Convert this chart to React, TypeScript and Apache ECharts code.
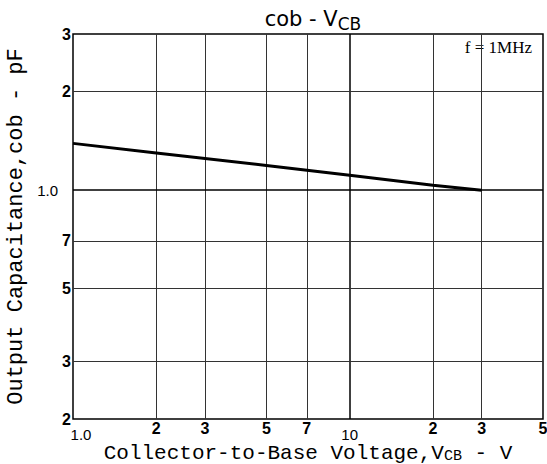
import React, { useEffect, useRef } from "react";
import * as echarts from "echarts";

const voltage = [1, 2, 5, 10, 20, 30];
const capacitance = [1.39, 1.3, 1.19, 1.11, 1.035, 1.0];

const xGrid = [2, 3, 5, 7, 10, 20, 30];
const yGrid = [0.3, 0.5, 0.7, 1, 2];

const xTickValues = [1, 2, 3, 5, 7, 10, 20, 30, 50];
const xTickLabels = ["1.0", "2", "3", "5", "7", "10", "2", "3", "5"];
const yTickValues = [0.2, 0.3, 0.5, 0.7, 1, 2, 3];
const yTickLabels = ["2", "3", "5", "7", "1.0", "2", "3"];

const App: React.FC = () => {
  const ref = useRef<HTMLDivElement>(null);

  useEffect(() => {
    if (!ref.current) return;
    const chart = echarts.init(ref.current, undefined, { renderer: "svg" });

    const boldFont = {
      fontFamily: "Liberation Sans",
      fontWeight: "bold" as const,
      fontSize: 16,
      color: "#000",
    };
    const normalFont = {
      fontFamily: "Liberation Sans",
      fontWeight: "normal" as const,
      fontSize: 15,
      color: "#000",
    };

    const markData: any[] = [];
    xGrid.forEach((v) => {
      markData.push({
        xAxis: v,
        lineStyle: { color: v === 10 ? "#000" : "#333", width: v === 10 ? 1.5 : 1, type: "solid" },
        label: { show: false },
      });
    });
    yGrid.forEach((v) => {
      markData.push({
        yAxis: v,
        lineStyle: { color: v === 1 ? "#000" : "#333", width: v === 1 ? 1.5 : 1, type: "solid" },
        label: { show: false },
      });
    });
    xTickValues.forEach((v, i) => {
      const lbl = xTickLabels[i];
      const major = lbl === "1.0" || lbl === "10";
      markData.push({
        xAxis: v,
        lineStyle: { color: "rgba(0,0,0,0)", width: 1, type: "solid" },
        label: {
          show: true,
          position: "start",
          formatter: lbl,
          distance: major ? 8 : 1,
          padding: lbl === "1.0" ? [0, 0, 0, 16] : 0,
          ...(major ? normalFont : boldFont),
        },
      });
    });
    yTickValues.forEach((v, i) => {
      const major = yTickLabels[i] === "1.0";
      markData.push({
        yAxis: v,
        lineStyle: { color: "rgba(0,0,0,0)", width: 1, type: "solid" },
        label: {
          show: true,
          position: "start",
          formatter: yTickLabels[i],
          distance: major ? 15 : 2,
          ...(major ? normalFont : boldFont),
        },
      });
    });

    chart.setOption({
      animation: false,
      backgroundColor: "#fff",
      title: {
        text: "cob - V{sub|CB}",
        left: 308,
        textAlign: "center",
        top: 1,
        textStyle: {
          fontFamily: "DejaVu Sans",
          fontWeight: "normal",
          fontSize: 21,
          color: "#000",
          rich: {
            sub: {
              fontFamily: "DejaVu Sans",
              fontSize: 17,
              color: "#000",
              padding: [9, 0, 0, 0],
            },
          },
        },
      },
      grid: {
        left: 73,
        right: 4,
        top: 34,
        bottom: 45,
        show: true,
        borderColor: "#000",
        borderWidth: 1.5,
        backgroundColor: "transparent",
        outerBoundsMode: "none",
        containLabel: false,
      },
      xAxis: {
        type: "log",
        logBase: 10,
        min: 1,
        max: 50,
        axisLine: { show: false },
        axisTick: { show: false },
        axisLabel: { show: false },
        splitLine: { show: false },
        name: "Collector-to-Base Voltage,V{sub|CB} - V",
        nameLocation: "middle",
        nameGap: 24,
        nameTextStyle: {
          fontFamily: "Liberation Mono",
          fontSize: 21,
          lineHeight: 21,
          color: "#000",
          rich: {
            sub: {
              fontFamily: "Liberation Mono",
              fontSize: 15,
              lineHeight: 21,
              color: "#000",
              padding: [5, 0, 0, 0],
            },
          },
        },
      },
      yAxis: {
        type: "log",
        logBase: 10,
        min: 0.2,
        max: 3,
        axisLine: { show: false },
        axisTick: { show: false },
        axisLabel: { show: false },
        splitLine: { show: false },
        name: "Output Capacitance,cob - pF",
        nameLocation: "middle",
        nameGap: 46,
        nameRotate: 90,
        nameTextStyle: {
          fontFamily: "Liberation Mono",
          fontSize: 22,
          color: "#000",
        },
      },
      graphic: [
        {
          type: "text",
          right: 15,
          top: 39,
          style: {
            text: "f = 1MHz",
            fontFamily: "Liberation Serif",
            fontSize: 17,
            fill: "#000",
          },
        },
      ],
      series: [
        {
          type: "line",
          data: voltage.map((v, i) => [v, capacitance[i]]),
          showSymbol: false,
          lineStyle: { color: "#000", width: 3 },
          z: 5,
          markLine: {
            silent: true,
            symbol: "none",
            animation: false,
            data: markData,
          },
        },
      ],
    });

    return () => chart.dispose();
  }, []);

  return (
    <div
      ref={ref}
      style={{ position: "fixed", left: 0, top: 0, width: 547, height: 464 }}
    />
  );
};

export default App;
